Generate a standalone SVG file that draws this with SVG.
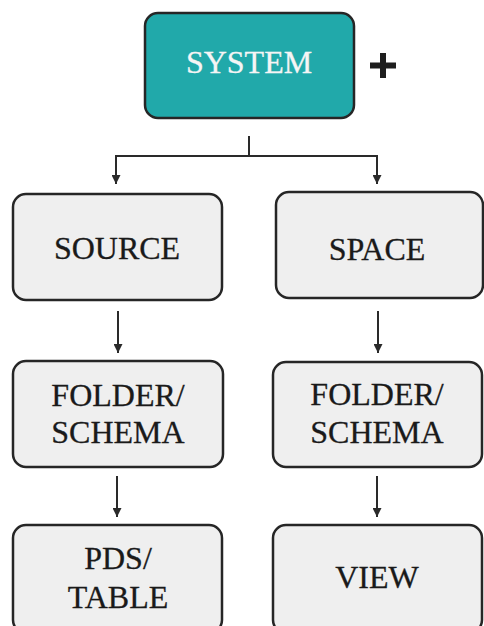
<svg xmlns="http://www.w3.org/2000/svg" width="484" height="626" viewBox="0 0 484 626">
<style>
.box{fill:#efefef;stroke:#262626;stroke-width:2.5}
.sys{fill:#21a9aa;stroke:#262626;stroke-width:2.5}
.t{font-family:"Liberation Serif","Times New Roman",serif;font-size:32px;fill:#1a1a1a;text-anchor:middle;stroke:#1a1a1a;stroke-width:0.3}
.tw{fill:#f5f5f5;stroke:#f5f5f5}
.c{fill:none;stroke:#2a2a2a;stroke-width:2}
</style>
<defs>
<marker id="ah" viewBox="0 0 10 10" refX="10" refY="5" markerWidth="4.5" markerHeight="4.5" orient="auto" markerUnits="strokeWidth">
<path d="M0,0 L10,5 L0,10 z" fill="#2a2a2a"/>
</marker>
</defs>
<g id="connectors">
<path class="c" d="M249,136 V156 M116,156 H377"/>
<path class="c" d="M116,155 V184" marker-end="url(#ah)"/>
<path class="c" d="M377,155 V184" marker-end="url(#ah)"/>
<path class="c" d="M118,311 V353" marker-end="url(#ah)"/>
<path class="c" d="M378,311 V353" marker-end="url(#ah)"/>
<path class="c" d="M117,476 V517" marker-end="url(#ah)"/>
<path class="c" d="M377,476 V517" marker-end="url(#ah)"/>
</g>
<g id="system">
<rect class="sys" x="145" y="13" width="209" height="105" rx="13"/>
<text class="t tw" x="249" y="73">SYSTEM</text>
</g>
<g id="plus">
<path d="M383,53 V78 M370,65.5 H396" stroke="#1e1e1e" stroke-width="6" fill="none"/>
</g>
<g id="source">
<rect class="box" x="13" y="194" width="209" height="106" rx="13"/>
<text class="t" x="117" y="259">SOURCE</text>
</g>
<g id="space">
<rect class="box" x="276" y="192" width="207" height="106" rx="13"/>
<text class="t" x="377" y="260">SPACE</text>
</g>
<g id="folder-left">
<rect class="box" x="13" y="361" width="210" height="106" rx="13"/>
<text class="t" x="118" y="406">FOLDER/</text>
<text class="t" x="118" y="443">SCHEMA</text>
</g>
<g id="folder-right">
<rect class="box" x="273" y="362" width="209" height="105" rx="13"/>
<text class="t" x="377" y="405">FOLDER/</text>
<text class="t" x="377" y="443">SCHEMA</text>
</g>
<g id="pds-table">
<rect class="box" x="13" y="525" width="209" height="108" rx="13"/>
<text class="t" x="118" y="569">PDS/</text>
<text class="t" x="118" y="608">TABLE</text>
</g>
<g id="view">
<rect class="box" x="273" y="525" width="209" height="108" rx="13"/>
<text class="t" x="377" y="588">VIEW</text>
</g>
</svg>
